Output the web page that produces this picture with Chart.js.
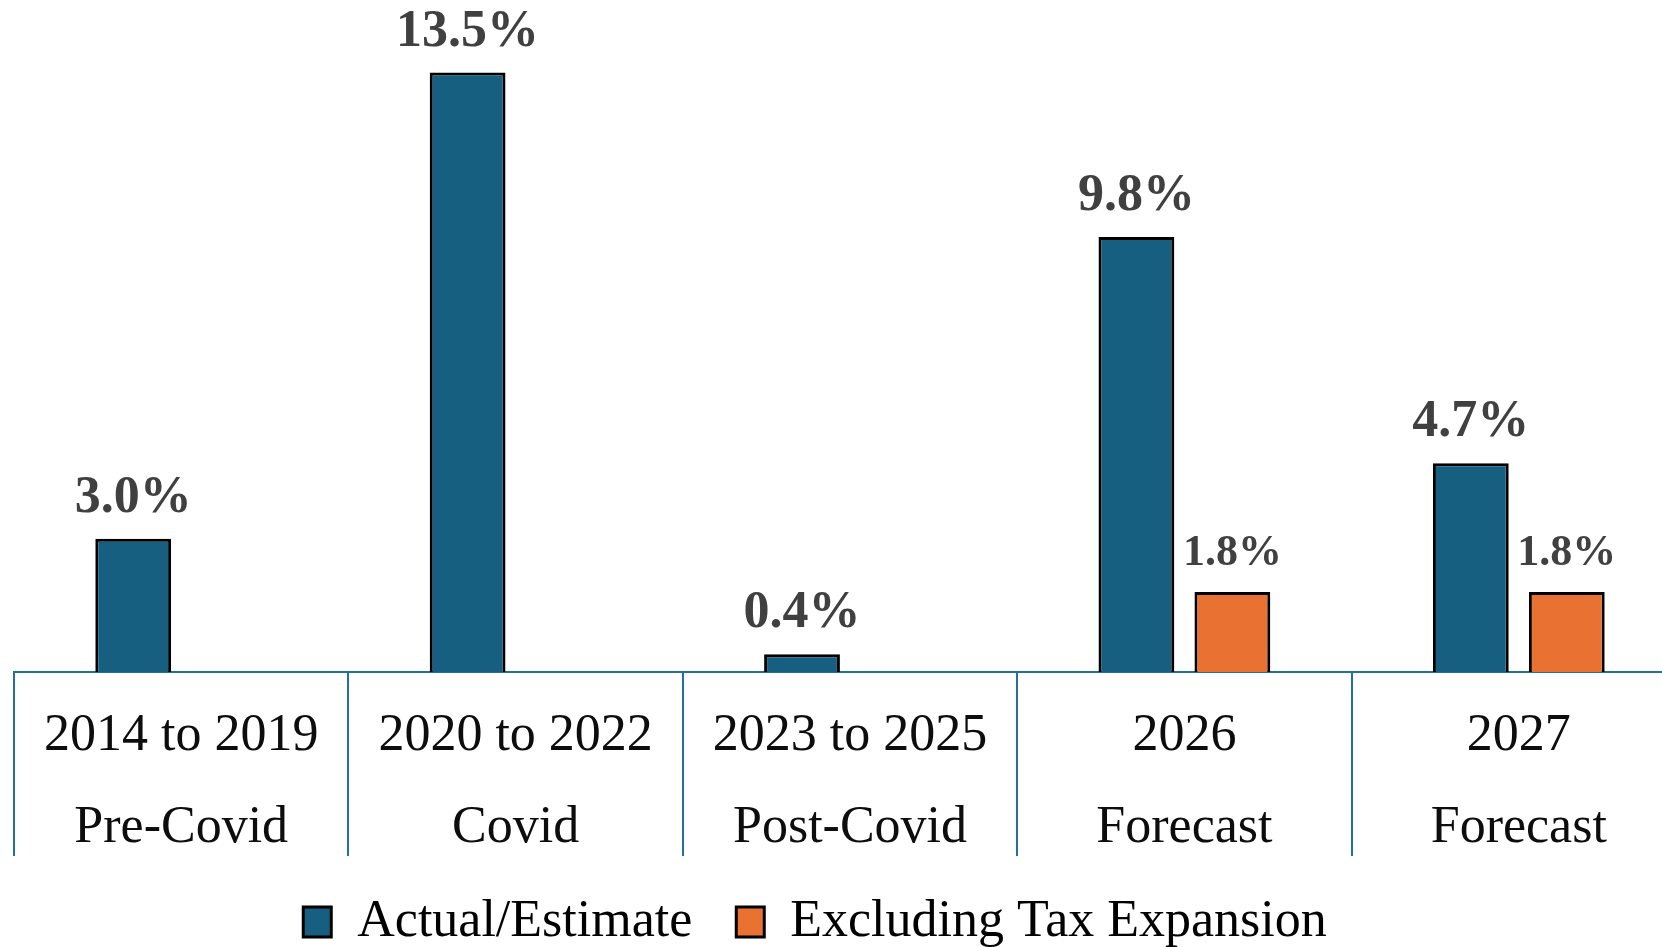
<!DOCTYPE html>
<html lang="en">
<head>
    <meta charset="UTF-8">
    <title>Growth by Period</title>
    <script src="https://cdn.jsdelivr.net/npm/chart.js"></script>
    <style>
        body {
            margin: 0;
            background: #ffffff;
            overflow: hidden;
        }
        .chart-box {
            position: absolute;
            left: 0;
            top: 0;
            width: 1700px;
            height: 958px;
        }
    </style>
</head>
<body>
    <div class="chart-box">
        <canvas id="growthChart"></canvas>
    </div>

    <script>
        const periods = [
            ["2014 to 2019", "Pre-Covid"],
            ["2020 to 2022", "Covid"],
            ["2023 to 2025", "Post-Covid"],
            ["2026", "Forecast"],
            ["2027", "Forecast"]
        ];
        const actualEstimate = [3.0, 13.5, 0.4, 9.8, 4.7];
        const excludingTax = [null, null, null, 1.8, 1.8];
        const seriesNames = ["Actual/Estimate", "Excluding Tax Expansion"];

        const blue = "#175f80";
        const orange = "#e97132";
        const axisColor = "#2170a0";
        const serif = "'Liberation Serif', 'Times New Roman', serif";

        // value labels above each bar, bold grey
        const barLabels = {
            id: "barLabels",
            afterDatasetsDraw(chart) {
                const ctx = chart.ctx;
                ctx.save();
                ctx.fillStyle = "#404040";
                ctx.textAlign = "center";
                ctx.textBaseline = "alphabetic";
                chart.data.datasets.forEach((ds, i) => {
                    const size = i === 0 ? 52 : 44;
                    ctx.font = "bold " + size + "px " + serif;
                    chart.getDatasetMeta(i).data.forEach((bar, j) => {
                        const v = ds.data[j];
                        if (v === null) return;
                        ctx.fillText(v.toFixed(1) + "%", bar.x, bar.y - 27);
                    });
                });
                ctx.restore();
            }
        };

        // legend sits a bit left of the plot centre
        const legendShift = {
            id: "legendShift",
            afterLayout(chart) {
                chart.legend.left -= 35;
                chart.legend.right -= 35;
            }
        };

        new Chart(document.getElementById("growthChart"), {
            type: "bar",
            data: {
                labels: periods,
                datasets: [
                    {
                        label: seriesNames[0],
                        data: actualEstimate,
                        backgroundColor: blue,
                        borderColor: "#000000",
                        borderWidth: 3
                    },
                    {
                        label: seriesNames[1],
                        data: excludingTax,
                        backgroundColor: orange,
                        borderColor: "#000000",
                        borderWidth: 3
                    }
                ]
            },
            options: {
                responsive: true,
                maintainAspectRatio: false,
                animation: false,
                categoryPercentage: 0.574,
                barPercentage: 0.79,
                layout: { padding: { top: 6, left: 14, right: 14, bottom: 0 } },
                plugins: {
                    tooltip: { enabled: false },
                    legend: {
                        position: "bottom",
                        labels: {
                            color: "#000000",
                            boxWidth: 28,
                            boxHeight: 30,
                            padding: 44,
                            font: { family: serif, size: 52 }
                        }
                    }
                },
                scales: {
                    x: {
                        offset: true,
                        grid: {
                            offset: true,
                            drawOnChartArea: false,
                            drawTicks: true,
                            tickLength: 184,
                            color: axisColor,
                            lineWidth: 2
                        },
                        border: { display: true, color: axisColor, width: 2 },
                        ticks: {
                            color: "#0d0d0d",
                            padding: -166,
                            maxRotation: 0,
                            autoSkip: false,
                            font: { family: serif, size: 52, lineHeight: 1.77 }
                        },
                        afterFit(scale) {
                            scale.height = 180;
                        }
                    },
                    y: {
                        display: false,
                        min: 0,
                        max: 15
                    }
                }
            },
            plugins: [barLabels, legendShift]
        });
    </script>
</body>
</html>
